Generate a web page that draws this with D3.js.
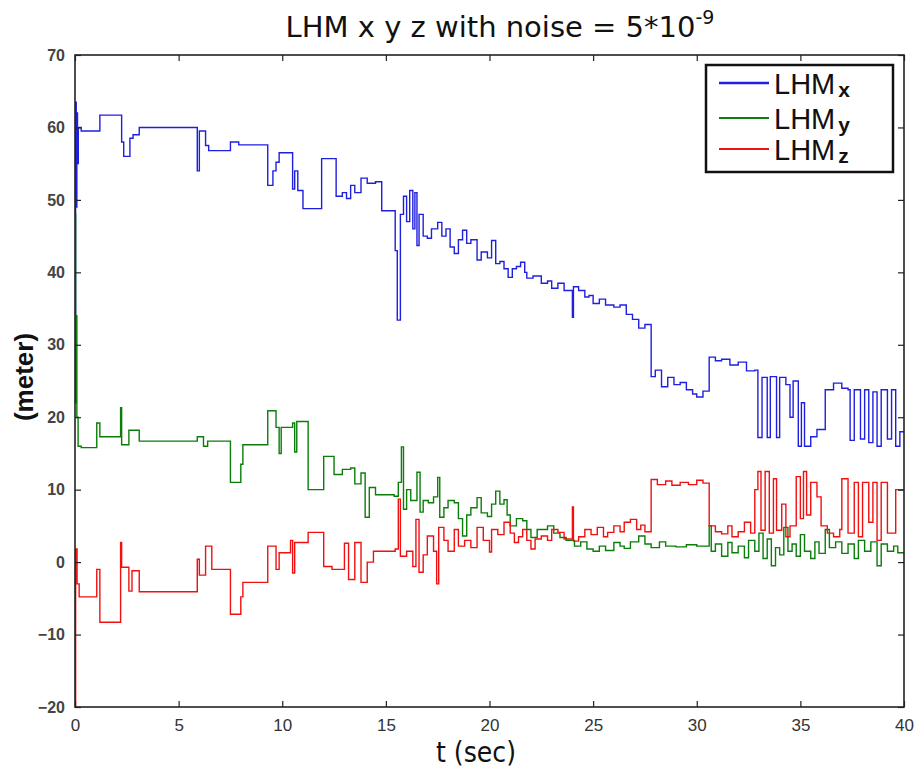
<!DOCTYPE html>
<html>
<head>
<meta charset="utf-8">
<script src="https://cdn.jsdelivr.net/npm/d3@7"></script>
<style>
  body { margin: 0; background: #fff; }
  svg { display: block; }
</style>
</head>
<body>
<svg id="chart" width="919" height="769"></svg>
<script>
// series, [t (sec), value (meter)], drawn as steps
const lhmX = [
  [0,33],[0.03,63.5],[0.06,49],[0.09,62],[0.12,55],[0.16,60],[0.3,59.5],[1.2,61.7],[2.25,58],[2.35,56],
  [2.65,58.5],[2.8,59],[3.1,60],[5.9,54],[6.0,59.5],[6.3,57.5],[6.45,56.8],[7.5,58],[7.9,57.6],[9.3,52],
  [9.55,54],[9.7,55.2],[9.85,56.5],[10.5,51.5],[10.6,54],[10.75,51.3],[11.0,48.8],[11.9,55.7],[12.6,50.5],[12.9,51],
  [13.1,50.2],[13.3,52],[13.5,51],[13.8,53],[14.1,52.3],[14.5,52.5],[14.8,48.5],[15.45,43],[15.55,33.4],[15.7,48],
  [15.85,50.5],[16.0,47],[16.15,51.3],[16.3,46],[16.4,51],[16.5,43.7],[16.6,48],[16.8,45],[17.0,44.7],[17.2,46],
  [17.5,46.9],[17.7,45],[17.9,46],[18.1,43.5],[18.3,42.6],[18.5,44.5],[18.7,45.8],[18.9,44],[19.1,44.5],[19.4,41.7],
  [19.6,42.8],[19.9,42],[20.1,44.4],[20.3,41.2],[20.5,41.5],[20.7,40.5],[20.9,39.3],[21.1,40.5],[21.3,40.8],[21.5,41.4],
  [21.7,40],[21.8,39.2],[22.1,39.5],[22.5,38.5],[22.8,38.8],[23.0,37.8],[23.3,38.5],[23.6,37.5],[24.0,33.8],[24.05,38],
  [24.3,37.5],[24.6,36.6],[24.8,36.8],[25.0,35.7],[25.3,36.3],[25.6,35.5],[26.0,35.2],[26.3,35.5],[26.6,34.2],[26.9,33.5],
  [27.2,32.3],[27.5,32.8],[27.8,25.6],[28.0,26.5],[28.3,24.2],[28.6,25.5],[28.9,24.5],[29.2,24.8],[29.5,23.8],[29.8,23.2],
  [30.0,22.8],[30.3,23.6],[30.6,28.3],[30.9,27.8],[31.2,28],[31.6,27.2],[32.0,27.6],[32.4,26.4],[32.8,26.5],[32.95,17.2],
  [33.15,25.5],[33.4,17.2],[33.55,25.6],[33.85,17.2],[34.0,25.5],[34.3,24.5],[34.5,20],[34.65,25],[34.9,16],[35.05,22],
  [35.2,16],[35.5,17.3],[35.8,18.3],[36.2,23.8],[36.6,24.7],[37.0,24],[37.3,23.8],[37.4,16.8],[37.6,23.8],[37.9,17],
  [38.1,23.8],[38.3,16.5],[38.5,23.5],[38.7,16],[38.9,23.8],[39.2,17],[39.4,23.8],[39.6,16],[39.8,18],[40,18]
];

const lhmY = [
  [0,48],[0.03,22],[0.06,34],[0.09,20],[0.15,16],[0.3,15.8],[1.05,19.2],[1.2,17.3],[2.2,21.3],[2.25,16.2],
  [2.6,18.2],[3.1,16.7],[5.9,17.3],[6.2,16],[6.4,16.7],[7.5,11],[8.0,13.5],[8.1,16.2],[9.3,20.9],[9.7,18.6],
  [9.85,15],[9.95,18.6],[10.5,19.2],[10.6,15.2],[10.7,19.4],[11.25,10],[12.0,14.6],[12.5,12.1],[12.9,12.8],[13.3,13],
  [13.5,10.8],[13.8,12.3],[14.0,6.2],[14.2,10.3],[14.5,9.3],[15.4,9.1],[15.6,11],[15.75,15.9],[15.85,7.3],[16.0,10],
  [16.2,8.5],[16.5,12.4],[16.65,6.9],[16.8,8.5],[17.05,8.2],[17.3,9],[17.5,11.7],[17.6,6.2],[17.8,7.5],[18.0,8.5],
  [18.3,8.2],[18.5,6],[18.7,3.6],[18.9,6.5],[19.1,7.5],[19.4,8.9],[19.6,6.8],[19.9,6.3],[20.1,8],[20.3,9.8],
  [20.5,8],[20.7,8.6],[20.85,6.5],[21.0,5],[21.3,6],[21.6,5.7],[21.8,4.5],[22.0,3.4],[22.3,4.5],[22.8,5],
  [23.1,4],[23.4,3.4],[23.7,3],[24.1,2.2],[24.4,2.8],[24.7,1.8],[25.0,1.5],[25.3,2.2],[25.6,1.6],[26.0,2.7],
  [26.3,2.2],[26.5,1.9],[26.8,2.8],[27.2,3.6],[27.5,2.5],[27.8,2.0],[28.2,2.8],[28.5,2.2],[29,2.1],[29.5,2.4],
  [30,2.2],[30.6,5.0],[30.7,1.5],[30.9,2.5],[31.2,0.8],[31.5,2.7],[31.7,1.3],[32.0,2.2],[32.3,0.6],[32.5,3.0],
  [32.8,1.5],[33.0,4],[33.2,0.5],[33.4,3.2],[33.6,-0.5],[33.8,2],[34.0,1.0],[34.2,4.8],[34.4,1.5],[34.6,2.5],
  [34.8,0.8],[35.0,3.8],[35.2,1.5],[35.5,0.5],[35.7,2.8],[35.9,1.2],[36.2,4.5],[36.4,2],[36.7,2.8],[37.0,1.2],
  [37.3,2.5],[37.6,0.5],[37.8,3],[38.1,1.5],[38.4,2.8],[38.7,-0.5],[38.9,2.5],[39.2,1.5],[39.5,2.2],[39.7,1.3],[40,1.3]
];

const lhmZ = [
  [0,-20],[0.03,1.8],[0.1,-3],[0.2,-4.8],[1.05,-1.0],[1.2,-8.3],[2.2,2.7],[2.25,-0.7],[2.6,-4],[2.75,-1.2],
  [3.1,-4.1],[5.9,0.4],[6.0,-1.8],[6.3,2.2],[6.6,-1.0],[7.5,-7.2],[8.0,-4.8],[8.1,-2.8],[9.3,2.2],[9.7,-1.0],
  [9.85,1.3],[10.4,3],[10.5,-1.5],[10.6,2.7],[11.25,4.1],[12.0,-0.6],[12.4,-1.0],[13.0,2.6],[13.2,-2.4],[13.5,2.7],
  [13.8,-2.8],[14.1,0],[14.4,1.5],[15.45,1.8],[15.6,8.7],[15.7,0.8],[16.0,1.5],[16.3,-0.6],[16.45,5.9],[16.6,-1.4],
  [16.8,1],[17.0,3.6],[17.3,1.5],[17.45,-3.0],[17.55,4.8],[17.8,3],[18.0,1.5],[18.3,4.5],[18.5,2.2],[18.8,3],
  [19.1,2],[19.4,4.8],[19.7,3],[20.0,1.4],[20.1,4.5],[20.4,3.8],[20.7,5.5],[21.0,4],[21.2,2.7],[21.4,3.5],
  [21.6,4.5],[21.8,3],[22.0,1.8],[22.2,3.2],[22.5,3.6],[22.8,3],[23.0,4.5],[23.3,4.1],[23.6,3.2],[24.0,7.6],
  [24.05,2.9],[24.3,3.5],[24.6,4.5],[24.9,3.8],[25.2,4.8],[25.5,3.5],[25.7,4.1],[26.0,5],[26.3,4.2],[26.5,5.5],
  [26.8,5.9],[27.1,4.5],[27.3,5.1],[27.5,4.2],[27.8,11.4],[28.1,10.7],[28.5,11.2],[28.8,10.6],[29.2,11],[29.6,10.7],
  [30.0,11.3],[30.3,10.9],[30.6,5.0],[30.9,4.2],[31.2,3.9],[31.5,5],[31.7,3.5],[32.0,4.2],[32.3,5.5],[32.6,4.0],
  [32.8,10],[32.95,12.5],[33.1,4.4],[33.3,12.5],[33.5,4],[33.7,11.5],[33.85,4.4],[34.1,8],[34.3,3.5],[34.5,5],
  [34.8,11.8],[35.0,6],[35.15,12.5],[35.3,6.5],[35.5,11],[35.8,9],[36.0,5],[36.3,4],[36.6,3.5],[36.9,4.5],
  [37.0,11.5],[37.3,4],[37.6,11],[37.8,3.5],[38.0,11],[38.3,5.5],[38.5,11],[38.7,3],[38.9,11],[39.2,4],[39.6,10],[40,10]
];

const xTicks = [0, 5, 10, 15, 20, 25, 30, 35, 40];
const yTicks = [-20, -10, 0, 10, 20, 30, 40, 50, 60, 70];
const seriesNames = ["x", "y", "z"];
const seriesColors = ["#1f1fe0", "#0a7d0a", "#f01010"];

const width = 919, height = 769;
const margin = {top: 55, right: 15, bottom: 62, left: 75};
const w = width - margin.left - margin.right;
const h = height - margin.top - margin.bottom;

const svg = d3.select("#chart");
const g = svg.append("g").attr("transform", `translate(${margin.left},${margin.top})`);

const x = d3.scaleLinear().domain([0, 40]).range([0, w]);
const y = d3.scaleLinear().domain([-20, 70]).range([h, 0]);

// clip lines to the axes box
svg.append("defs").append("clipPath").attr("id", "clip")
  .append("rect").attr("width", w).attr("height", h);

const line = d3.line()
  .x(d => x(d[0]))
  .y(d => y(d[1]))
  .curve(d3.curveStepAfter);

const plot = g.append("g").attr("clip-path", "url(#clip)");
[lhmX, lhmY, lhmZ].forEach((s, i) => {
  plot.append("path")
    .datum(s)
    .attr("fill", "none")
    .attr("stroke", seriesColors[i])
    .attr("stroke-width", 1.4)
    .attr("stroke-linejoin", "miter")
    .attr("d", line);
});

// axes, ticks pointing inwards on all four sides
const tickFont = "'Liberation Sans Narrow', 'Liberation Sans', Arial, sans-serif";

const xAxis = g.append("g").attr("transform", `translate(0,${h})`)
  .call(d3.axisBottom(x).tickValues(xTicks).tickSize(-6).tickPadding(12));
const yAxis = g.append("g")
  .call(d3.axisLeft(y).tickValues(yTicks).tickSize(-6).tickPadding(10));
const xTop = g.append("g")
  .call(d3.axisTop(x).tickValues(xTicks).tickSize(-6).tickFormat(""));
const yRight = g.append("g").attr("transform", `translate(${w},0)`)
  .call(d3.axisRight(y).tickValues(yTicks).tickSize(-6).tickFormat(""));

[xAxis, yAxis, xTop, yRight].forEach(a => {
  a.select(".domain").remove();
  a.selectAll(".tick line").attr("stroke", "#222").attr("stroke-width", 1.2);
});

xAxis.selectAll("text")
  .attr("font-family", tickFont)
  .attr("font-size", 17)
  .attr("fill", "#333");
yAxis.selectAll("text")
  .attr("font-family", tickFont)
  .attr("font-size", 16)
  .attr("font-weight", "bold")
  .attr("fill", "#444");

g.append("rect")
  .attr("width", w).attr("height", h)
  .attr("fill", "none")
  .attr("stroke", "#222")
  .attr("stroke-width", 1.6);

// title
const title = svg.append("text")
  .attr("x", 500).attr("y", 37)
  .attr("text-anchor", "middle")
  .attr("font-family", "'DejaVu Sans', sans-serif")
  .attr("font-size", 29)
  .attr("fill", "#111");
title.append("tspan").text("LHM x y z with noise = 5*10");
title.append("tspan").attr("dy", -13).attr("font-size", 19).text("-9");

// axis labels
svg.append("text")
  .attr("x", 476).attr("y", 762)
  .attr("text-anchor", "middle")
  .attr("font-family", "'DejaVu Sans Condensed', 'DejaVu Sans', sans-serif")
  .attr("font-size", 28)
  .attr("fill", "#111")
  .text("t (sec)");

svg.append("text")
  .attr("transform", "translate(33,377) rotate(-90)")
  .attr("text-anchor", "middle")
  .attr("font-family", "'Liberation Sans', Arial, sans-serif")
  .attr("font-weight", "bold")
  .attr("font-size", 26)
  .attr("fill", "#111")
  .text("(meter)");

// legend
const legend = svg.append("g").attr("transform", "translate(706,65)");
legend.append("rect")
  .attr("width", 187).attr("height", 107)
  .attr("fill", "#fff")
  .attr("stroke", "#111")
  .attr("stroke-width", 2.5);

const rowY = [18, 53, 84];
seriesNames.forEach((n, i) => {
  const row = legend.append("g").attr("transform", `translate(0,${rowY[i]})`);
  row.append("line")
    .attr("x1", 13).attr("x2", 63)
    .attr("stroke", seriesColors[i])
    .attr("stroke-width", i === 0 ? 2.5 : 2);
  const t = row.append("text")
    .attr("x", 68).attr("y", 11)
    .attr("font-family", "'Liberation Sans', Arial, sans-serif")
    .attr("font-size", 29)
    .attr("fill", "#111");
  t.append("tspan").text("LHM");
  t.append("tspan").attr("dx", 3).attr("dy", 3)
    .attr("font-size", 21).attr("font-weight", "bold").text(n);
});
</script>
</body>
</html>
